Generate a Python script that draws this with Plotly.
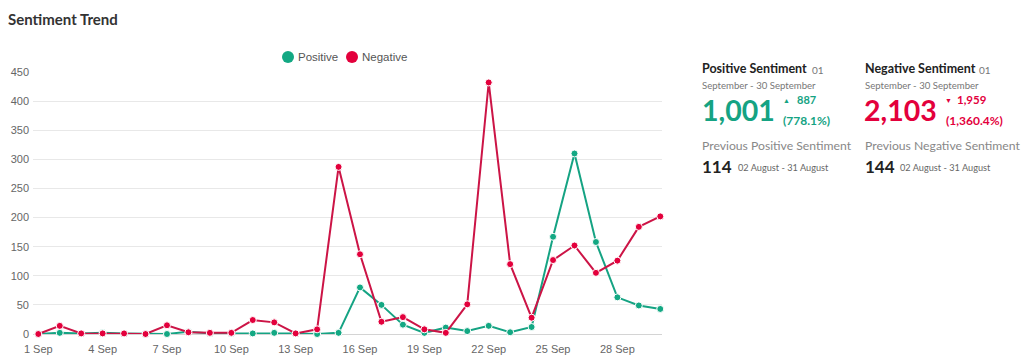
import plotly.graph_objects as go

days = list(range(1, 31))
positive = [0, 2, 1, 2, 1, 0, 0, 4, 1, 1, 1, 2, 1, 0, 2,
            80, 50, 16, 2, 11, 5, 14, 3, 12, 167, 310, 158, 63, 49, 43]
negative = [0, 14, 1, 1, 1, 0, 15, 3, 2, 2, 24, 20, 1, 8, 287,
            137, 21, 29, 8, 2, 51, 432, 120, 28, 127, 152, 105, 126, 184, 202]
tick_days = [1, 4, 7, 10, 13, 16, 19, 22, 25, 28]
tick_labels = ["1 Sep", "4 Sep", "7 Sep", "10 Sep", "13 Sep", "16 Sep",
               "19 Sep", "22 Sep", "25 Sep", "28 Sep"]
y_ticks = [0, 50, 100, 150, 200, 250, 300, 350, 400, 450]

GREEN = "#15a383"
GREEN_M = "#13a883"
RED_L = "#cc1446"
RED_M = "#e3003c"

W, H = 1024, 364
L, R, T, B = 33, 362, 72, 30
PW, PH = W - L - R, H - T - B


def px(x):
    return (x - L) / PW


def py(y):
    return (H - B - y) / PH


fig = go.Figure()
fig.add_trace(go.Scatter(x=days, y=positive, mode="lines+markers", name="Positive", showlegend=False,
                         line=dict(color=GREEN, width=2),
                         marker=dict(color=GREEN_M, size=7, line=dict(color="white", width=1)),
                         cliponaxis=False))
fig.add_trace(go.Scatter(x=days, y=negative, mode="lines+markers", name="Negative", showlegend=False,
                         line=dict(color=RED_L, width=2),
                         marker=dict(color=RED_M, size=7, line=dict(color="white", width=1)),
                         cliponaxis=False))

fig.update_layout(
    width=W, height=H,
    margin=dict(l=L, r=R, t=T, b=B, autoexpand=False),
    paper_bgcolor="white", plot_bgcolor="white",
    font=dict(family="Liberation Sans, Arial", size=11, color="#666"),
    showlegend=False,
    xaxis=dict(range=[0.753, 30.08], tickvals=tick_days, ticktext=tick_labels,
               showgrid=False, zeroline=False, showline=False, ticks="",
               ticklabelstandoff=7, automargin=False,
               tickfont=dict(size=11, color="#666")),
    yaxis=dict(range=[0, 450], tickvals=y_ticks, showgrid=True, gridcolor="#e8e8e8",
               gridwidth=1, zeroline=True, zerolinecolor="#d4d4d4", zerolinewidth=1,
               showline=False, ticks="", ticklabelstandoff=3, automargin=False,
               tickfont=dict(size=11, color="#666")),
)

ann = []
shapes = []


def text(x, y, s, size, color, bold=False, family="Lato, Noto Sans, sans-serif", anchor="left"):
    if bold:
        s = "<b>" + s + "</b>"
    ann.append(dict(xref="paper", yref="paper", x=px(x), y=py(y), text=s, showarrow=False,
                    xanchor=anchor, yanchor="middle",
                    font=dict(size=size, color=color, family=family)))


def dot(x, y, r, color):
    shapes.append(dict(type="circle", xref="paper", yref="paper",
                       x0=px(x - r), x1=px(x + r), y0=py(y + r), y1=py(y - r),
                       fillcolor=color, line=dict(width=0)))


# custom legend
dot(288, 57, 6, GREEN_M)
text(296, 57, "Positive", 11.5, "#555", family="Liberation Sans, Arial")
dot(352, 57, 6, RED_M)
text(360, 57, "Negative", 11.5, "#555", family="Liberation Sans, Arial")

text(6, 19, "Sentiment Trend", 15, "#333", bold=True)

# Positive panel
text(700, 69, "Positive Sentiment", 12.5, "#222", bold=True)
text(810, 70, "01", 10, "#777")
text(700, 85, "September - 30 September", 9.6, "#777")
text(700, 110, "1,001", 28.5, GREEN, bold=True)
text(781, 100, "▲", 7, GREEN)
text(795, 100, "887", 11, GREEN, bold=True)
text(781, 120, "(778.1%)", 12, GREEN, bold=True)
text(700, 145, "Previous Positive Sentiment", 12.2, "#888")
text(700, 166, "114", 17, "#222", bold=True)
text(736, 167, "02 August - 31 August", 9.2, "#666")

# Negative panel
text(863, 69, "Negative Sentiment", 12.5, "#222", bold=True)
text(977, 70, "01", 10, "#777")
text(863, 85, "September - 30 September", 9.6, "#777")
text(862, 110, "2,103", 28.5, RED_M, bold=True)
text(943, 100, "▼", 7, RED_M)
text(955, 100, "1,959", 11.5, RED_M, bold=True)
text(944, 120, "(1,360.4%)", 12, RED_M, bold=True)
text(863, 145, "Previous Negative Sentiment", 12.2, "#888")
text(863, 166, "144", 17, "#222", bold=True)
text(898, 167, "02 August - 31 August", 9.2, "#666")

fig.update_layout(annotations=ann, shapes=shapes)
fig.write_html("out.html", config={"displayModeBar": False})

# remove default page margin so the figure sits at the window's top-left corner
with open("out.html", "r", encoding="utf-8") as f:
    html = f.read()
html = html.replace("<head>", "<head><style>html,body{margin:0;padding:0;overflow:hidden;}</style>", 1)
with open("out.html", "w", encoding="utf-8") as f:
    f.write(html)
